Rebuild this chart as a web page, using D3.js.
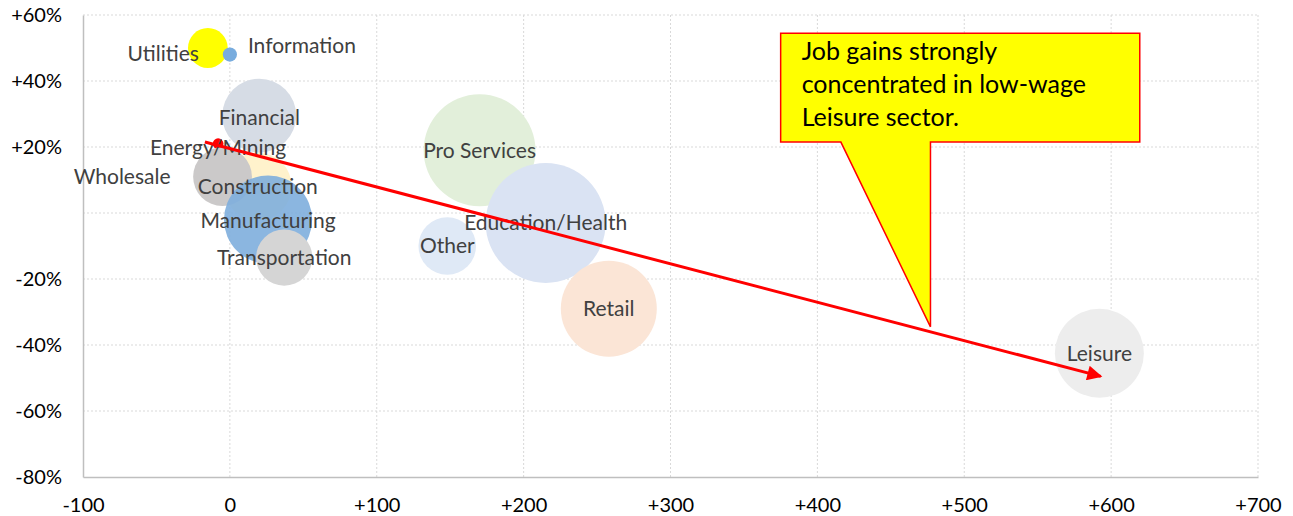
<!DOCTYPE html>
<html>
<head>
<meta charset="utf-8">
<script src="https://cdn.jsdelivr.net/npm/d3@7"></script>
<style>
  body { margin: 0; background: #fff; }
  text { font-family: Lato, "Open Sans", sans-serif; }
</style>
</head>
<body>
<div id="wrapper"></div>
<script>
// sectors, in drawing order (later ones sit on top)
const sectors = ["Utilities", "Information", "Financial", "Construction", "Energy/Mining", "Wholesale",
  "Manufacturing", "Transportation", "Pro Services", "Education/Health", "Other", "Retail", "Leisure"];
// job change (thousands)
const jobChange = [-15, 0, 20, 19, -8, -5, 26, 37, 170, 215, 148, 258, 592];
// relative wage (%)
const wageGap = [50, 48, 29.5, 8, 21, 11, -2, -13.5, 19, -3, -10, -29, -42.5];
// bubble size
const bubbleSize = [11, 1.4, 38, 32, 0.8, 24, 54, 22, 87, 100, 23, 64, 55];

const xTicks = [-100, 0, 100, 200, 300, 400, 500, 600, 700];
const yTicks = [60, 40, 20, 0, -20, -40, -60, -80];

const calloutLines = ["Job gains strongly", "concentrated in low-wage", "Leisure sector."];

const colors = {
  "Utilities": "#ffff00",
  "Information": "#78acde",
  "Financial": "#d6dce5",
  "Construction": "#fff2cc",
  "Energy/Mining": "#ff0000",
  "Wholesale": "#cbc9c9",
  "Manufacturing": "#7eaedd",
  "Transportation": "#d5d5d5",
  "Pro Services": "#e2efda",
  "Education/Health": "#dae3f3",
  "Other": "#dfe9f6",
  "Retail": "#fbe5d6",
  "Leisure": "#ededed"
};
// label offsets from bubble centre, in px
const labelPos = {
  "Utilities": { anchor: "end", dx: -9, dy: 8 },
  "Information": { anchor: "start", dx: 18, dy: -7 },
  "Wholesale": { anchor: "end", dx: -52, dy: 2 },
  "Energy/Mining": { anchor: "middle", dx: 0, dy: 6 },
  "Financial": { anchor: "middle", dx: 0, dy: 4 },
  "Manufacturing": { anchor: "middle", dx: 0, dy: 3 }
};

async function draw() {
  const dimensions = {
    width: 1293,
    height: 516,
    margin: { top: 15, right: 35, bottom: 39, left: 83 }
  };
  dimensions.boundedWidth = dimensions.width - dimensions.margin.left - dimensions.margin.right;
  dimensions.boundedHeight = dimensions.height - dimensions.margin.top - dimensions.margin.bottom;

  const wrapper = d3.select("#wrapper")
    .append("svg")
      .attr("width", dimensions.width)
      .attr("height", dimensions.height);

  const bounds = wrapper.append("g")
    .attr("transform", "translate(" + dimensions.margin.left + ", " + dimensions.margin.top + ")");

  const x = d3.scaleLinear().domain([-100, 700]).range([0, dimensions.boundedWidth]);
  const y = d3.scaleLinear().domain([-80, 60]).range([dimensions.boundedHeight, 0]);
  const r = d3.scaleSqrt().domain([0, 100]).range([0, 60]);

  // grid
  bounds.append("g")
    .selectAll("line")
    .data(yTicks.filter(d => d > -80))
    .enter()
    .append("line")
      .attr("x1", 0)
      .attr("x2", dimensions.boundedWidth)
      .attr("y1", d => y(d))
      .attr("y2", d => y(d))
      .attr("stroke", "#d9d9d9")
      .attr("stroke-dasharray", "2,2");
  bounds.append("g")
    .selectAll("line")
    .data(xTicks.filter(d => d > -100))
    .enter()
    .append("line")
      .attr("x1", d => x(d))
      .attr("x2", d => x(d))
      .attr("y1", 0)
      .attr("y2", dimensions.boundedHeight)
      .attr("stroke", "#d9d9d9")
      .attr("stroke-dasharray", "2,2");

  // axes
  const xFmt = d => d === 0 ? "0" : (d > 0 ? "+" + d : String(d));
  const yFmt = d => d === 0 ? "" : (d > 0 ? "+" + d + "%" : d + "%");

  const xAxis = bounds.append("g")
    .attr("transform", "translate(0," + dimensions.boundedHeight + ")")
    .call(d3.axisBottom(x).tickValues(xTicks).tickFormat(xFmt).tickSize(0).tickPadding(21));
  xAxis.select(".domain").attr("stroke", "#bfbfbf").attr("stroke-width", 1.5);
  xAxis.selectAll("text").attr("font-size", 20).attr("fill", "#000");

  const yAxis = bounds.append("g")
    .call(d3.axisLeft(y).tickValues(yTicks).tickFormat(yFmt).tickSize(0).tickPadding(21));
  yAxis.select(".domain").attr("stroke", "#bfbfbf").attr("stroke-width", 1.5);
  yAxis.selectAll("text").attr("font-size", 20).attr("fill", "#000");

  // bubbles
  const data = sectors.map((s, i) => ({ name: s, x: jobChange[i], y: wageGap[i], size: bubbleSize[i] }));

  bounds.append("g")
    .selectAll("circle")
    .data(data)
    .enter()
    .append("circle")
      .attr("cx", d => x(d.x))
      .attr("cy", d => y(d.y))
      .attr("r", d => r(d.size))
      .attr("fill", d => colors[d.name])
      .attr("fill-opacity", d => d.name === "Manufacturing" ? 0.9 : 1);

  bounds.append("g")
    .selectAll("text")
    .data(data)
    .enter()
    .append("text")
      .attr("x", d => x(d.x) + (labelPos[d.name] ? labelPos[d.name].dx : 0))
      .attr("y", d => y(d.y) + (labelPos[d.name] ? labelPos[d.name].dy : 2))
      .attr("text-anchor", d => labelPos[d.name] ? labelPos[d.name].anchor : "middle")
      .attr("dominant-baseline", "middle")
      .attr("font-size", 21)
      .attr("fill", "#404040")
      .text(d => d.name);

  // arrow from Energy/Mining towards Leisure
  wrapper.append("defs")
    .append("marker")
      .attr("id", "head")
      .attr("viewBox", "0 0 10 10")
      .attr("refX", 9)
      .attr("refY", 5)
      .attr("markerWidth", 6)
      .attr("markerHeight", 5)
      .attr("markerUnits", "strokeWidth")
      .attr("orient", "auto")
    .append("path")
      .attr("d", "M0,0 L10,5 L0,10 z")
      .attr("fill", "#ff0000");

  const arrowFrom = [-17, 21.5];
  const arrowTo = [593, -49.5];
  bounds.append("line")
    .attr("x1", x(arrowFrom[0]))
    .attr("y1", y(arrowFrom[1]))
    .attr("x2", x(arrowTo[0]))
    .attr("y2", y(arrowTo[1]))
    .attr("stroke", "#ff0000")
    .attr("stroke-width", 3)
    .attr("marker-end", "url(#head)");

  // callout box
  const box = { x0: 375, x1: 619.5, y0: 54.5, y1: 21.5 };
  const tail = { a: 416, b: 477, tipX: 477, tipY: -34.5 };
  const calloutPath = d3.path();
  calloutPath.moveTo(x(box.x0), y(box.y0));
  calloutPath.lineTo(x(box.x1), y(box.y0));
  calloutPath.lineTo(x(box.x1), y(box.y1));
  calloutPath.lineTo(x(tail.b), y(box.y1));
  calloutPath.lineTo(x(tail.tipX), y(tail.tipY));
  calloutPath.lineTo(x(tail.a), y(box.y1));
  calloutPath.lineTo(x(box.x0), y(box.y1));
  calloutPath.closePath();
  bounds.append("path")
    .attr("d", calloutPath.toString())
    .attr("fill", "#ffff00")
    .attr("stroke", "#ff0000")
    .attr("stroke-width", 1.5);

  bounds.append("g")
    .selectAll("text")
    .data(calloutLines)
    .enter()
    .append("text")
      .attr("x", x(box.x0) + 21)
      .attr("y", (d, i) => y(box.y0) + 27 + i * 33)
      .attr("font-size", 25)
      .attr("fill", "#000")
      .text(d => d);
}
draw();
</script>
</body>
</html>
